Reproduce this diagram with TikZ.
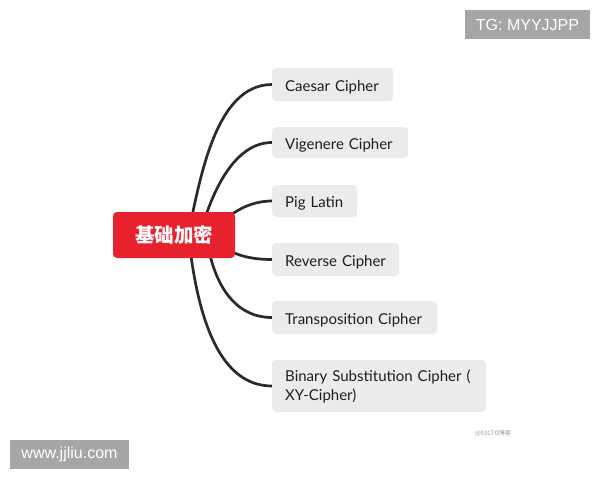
\documentclass[tikz,border=0pt]{standalone}
\usepackage{fontspec}
\setmainfont{Lato}
\newfontfamily\cjk{Noto Sans CJK SC}
\newfontfamily\wmfont{Liberation Sans}
\usetikzlibrary{backgrounds}
\definecolor{rootred}{HTML}{E8212E}
\definecolor{leafgray}{HTML}{EBEBEB}
\definecolor{edgecol}{HTML}{2A2A2A}
\definecolor{wmgray}{HTML}{A6A6A6}
\definecolor{txt}{HTML}{1E1E1E}
\newcommand{\lowstrut}{\rule{0pt}{16pt}}
\tikzset{
  rootbox/.style={fill=rootred, rounded corners=4pt, minimum width=122pt, minimum height=46pt, inner sep=0pt, text=white, font=\cjk\bfseries\fontsize{19.5}{20}\selectfont},
  leafbox/.style={fill=leafgray, rounded corners=4pt, anchor=west, inner xsep=13pt, inner ysep=0pt, align=left, text=txt, font=\fontsize{15}{19}\selectfont},
  branch/.style={draw=edgecol, line width=2.7pt},
  wmbox/.style={fill=wmgray, text=white, inner sep=0pt, font=\wmfont\fontsize{16}{16}\selectfont}
}
\begin{document}
\begin{tikzpicture}[x=1pt,y=-1pt]
\useasboundingbox (0,0) rectangle (600,480);
% leaves
\node[leafbox, text width=95pt, minimum height=33pt] (l1) at (272,84.5) {\lowstrut Caesar Cipher};
\node[leafbox, text width=110pt, minimum height=31pt] (l2) at (272,142.5) {\lowstrut Vigenere Cipher};
\node[leafbox, text width=59pt, minimum height=32pt] (l3) at (272,201) {\lowstrut Pig Latin};
\node[leafbox, text width=101pt, minimum height=33pt] (l4) at (272,259.5) {\lowstrut Reverse Cipher};
\node[leafbox, text width=139pt, minimum height=33pt] (l5) at (272,317.5) {\lowstrut Transposition Cipher};
\node[leafbox, text width=188pt, minimum height=52pt] (l6) at (272,386) {\rule{0pt}{13pt}Binary Substitution Cipher (\\XY-Cipher)};
% root
\node[rootbox] (root) at (174,235) {基础加密};
% branches
\begin{pgfonlayer}{background}
\draw[branch] (root.center) ++(14,0) coordinate (s1) .. controls (200,180) and (215,84.5) .. (l1.west);
\draw[branch] (root.center) ++(26,0) coordinate (s2) .. controls (212,190) and (235,142.5) .. (l2.west);
\draw[branch] (root.center) ++(41,-5) coordinate (s3) .. controls (230,212) and (250,201) .. (l3.west);
\draw[branch] (root.center) ++(41,5) coordinate (s4) .. controls (230,255) and (250,259.5) .. (l4.west);
\draw[branch] (root.center) ++(33,5) coordinate (s5) .. controls (214,285) and (235,317.5) .. (l5.west);
\draw[branch] (root.center) ++(15,5) coordinate (s6) .. controls (198,320) and (220,386) .. (l6.west);
\end{pgfonlayer}
% watermarks
\node[wmbox, minimum width=125pt, minimum height=29pt] (wm1) at (527.5,24.5) {TG: MYYJJPP};
\node[wmbox, minimum width=119pt, minimum height=29pt] (wm2) at (69.5,454.5) {www.jjliu.com};
\node[text=gray!80, inner sep=0pt, font=\cjk\fontsize{6}{6}\selectfont] (wm3) at (493,433) {@51CTO博客};
\end{tikzpicture}
\end{document}
